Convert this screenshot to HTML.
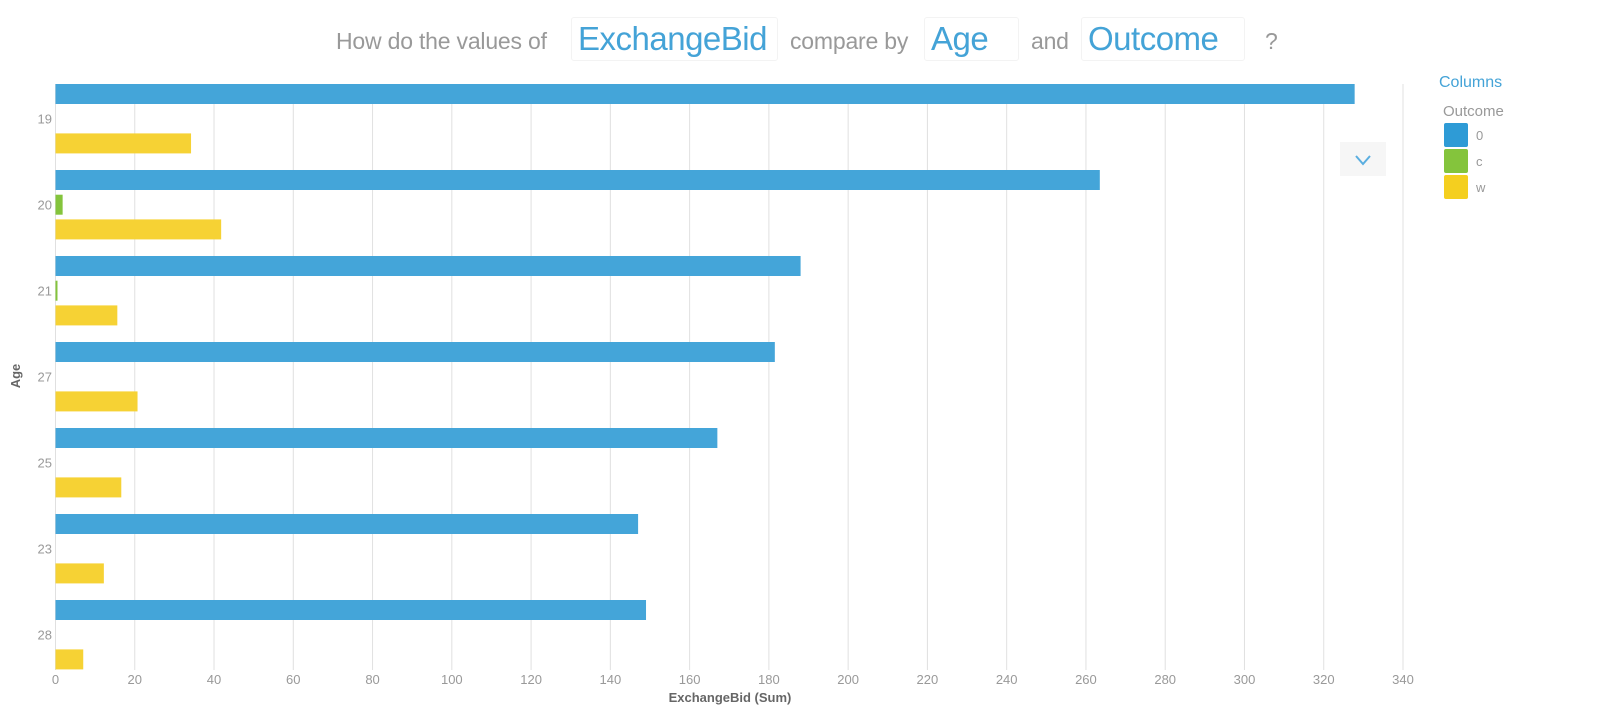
<!DOCTYPE html>
<html><head><meta charset="utf-8"><style>
body{margin:0;width:1612px;height:712px;background:#fff;overflow:hidden;font-family:"Liberation Sans",sans-serif;position:relative}
.t{position:absolute;color:#999;font-size:23px;top:28px;white-space:nowrap;letter-spacing:-0.2px}
.b{position:absolute;color:#44a3d7;font-size:33px;top:17px;white-space:nowrap;border:1px solid #f3f3f3;border-radius:3px;padding:2px 6px;letter-spacing:-0.5px}
.lg{position:absolute;font-size:13px;color:#999}
.sw{position:absolute;width:24px;height:24px;border-radius:2px;left:1444px}
</style></head><body>
<div>
<span class="t" style="left:336px">How do the values of</span>
<span class="b" style="left:571px;padding-right:10px">ExchangeBid</span>
<span class="t" style="left:790px">compare by</span>
<span class="b" style="left:924px;padding-right:30px">Age</span>
<span class="t" style="left:1031px">and</span>
<span class="b" style="left:1081px;padding-right:26px">Outcome</span>
<span class="t" style="left:1265px">?</span>
</div>
<svg id="chart" width="1612" height="712" style="position:absolute;left:0;top:0"></svg>
<div>
<div class="lg" style="left:1439px;top:74px;font-size:16px;color:#44a3d7">Columns</div>
<div class="lg" style="left:1443px;top:103px;font-size:15px">Outcome</div>
<div class="sw" style="top:123px;background:#2e9bd6"></div><div class="lg" style="left:1476px;top:128px">0</div>
<div class="sw" style="top:149px;background:#84c43c"></div><div class="lg" style="left:1476px;top:154px">c</div>
<div class="sw" style="top:175px;background:#f4cf1f"></div><div class="lg" style="left:1476px;top:180px">w</div>
</div>
<div style="position:absolute;left:1340px;top:142px;width:46px;height:34px;background:#f6f6f6">
<svg width="46" height="34"><polyline points="16,14 23,22 30,14" fill="none" stroke="#5aaee0" stroke-width="2"/></svg></div>
<script>
const categories=["19","20","21","27","25","23","28"];
const series=["0","c","w"];
const values0=[327.8,263.5,188,181.5,167,147,149];
const valuesC=[0,1.8,0.5,0,0,0,0];
const valuesW=[34.2,41.8,15.6,20.7,16.6,12.2,7];
const ticks=[0,20,40,60,80,100,120,140,160,180,200,220,240,260,280,300,320,340];
const NS="http://www.w3.org/2000/svg";
const svg=document.getElementById('chart');
const x0=55.5,pxu=1347.5/340,top0=84,groupH=86,band=24.7,barH=20,bottom=670;
function xs(v){return x0+v*pxu;}
function yg(i){return top0+i*groupH;}
function mk(tag,attrs){const e=document.createElementNS(NS,tag);for(const k in attrs)e.setAttribute(k,attrs[k]);svg.appendChild(e);return e;}
ticks.forEach(t=>{
 const l=mk('line',{x1:xs(t),x2:xs(t),y1:top0,y2:bottom,stroke:'#e0e0e0','stroke-width':1});
 
 
 const tx=mk('text',{x:xs(t),y:684,'text-anchor':'middle','font-size':13,fill:'#999','font-family':'Liberation Sans, sans-serif'});
 tx.textContent=t;
 
 
});
const colors=["#44a5d9","#84c43c","#f6d234"];
const all=[values0,valuesC,valuesW];
categories.forEach((c,i)=>{
 all.forEach((arr,j)=>{
  const v=arr[i]; if(v<=0)return;
  const r=mk('rect',{x:xs(0),y:yg(i)+j*band,width:xs(v)-xs(0),height:barH,fill:colors[j]});
  
  
 });
 const tx=mk('text',{x:52,y:yg(i)+band+barH/2+5,'text-anchor':'end','font-size':13,fill:'#999','font-family':'Liberation Sans, sans-serif'});
 tx.textContent=c;
 
 
});
const xt=mk('text',{x:730,y:702,'text-anchor':'middle','font-size':13,'font-weight':'bold',fill:'#666','font-family':'Liberation Sans, sans-serif'});
xt.textContent='ExchangeBid (Sum)';


const yt=mk('text',{x:0,y:0,transform:'translate(20,376) rotate(-90)','text-anchor':'middle','font-size':13,'font-weight':'bold',fill:'#666','font-family':'Liberation Sans, sans-serif'});
yt.textContent='Age';


</script>
</body></html>
